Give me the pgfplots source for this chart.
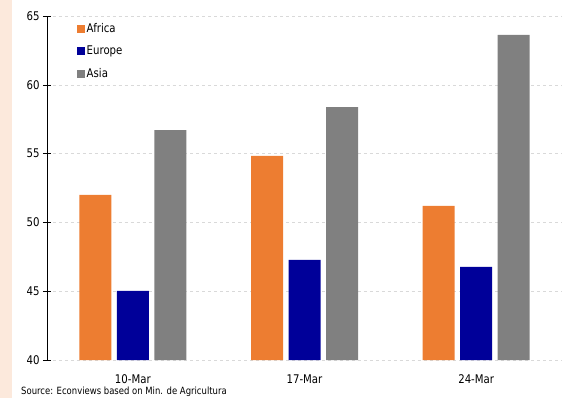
\documentclass[border=0pt]{standalone}
\usepackage{pgfplots}
\pgfplotsset{compat=1.18}
\usepackage{fontspec}
\setmainfont{DejaVu Sans}[FakeStretch=0.85]
\definecolor{afr}{HTML}{ED7D31}
\definecolor{eur}{HTML}{000099}
\definecolor{asi}{HTML}{808080}
\definecolor{peach}{HTML}{FCE9DC}
\begin{document}
\begin{tikzpicture}[x=1bp,y=1bp]
\begin{axis}[
  scale only axis, width=515bp, height=344bp,
  ybar, bar width=32bp,
  ymin=40, ymax=65, ytick={40,45,...,65},
  xmin=-0.5, xmax=2.5, xtick={0,1,2},
  xticklabels={10-Mar,17-Mar,24-Mar},
  axis lines*=left,
  x axis line style={draw=none},
  y axis line style={black, line width=0.8pt},
  xtick style={draw=none},
  ytick style={black, line width=0.6pt},
  tick align=center, major tick length=8bp,
  ymajorgrids, grid style={dashed, black!15, line width=0.6pt},
  /pgf/number format/assume math mode=true,
  ticklabel style={font=\fontsize{12}{14}\selectfont},
  xticklabel style={yshift=-7bp},
  legend style={at={(0,1)}, anchor=north west, xshift=27bp, yshift=-4bp,
    draw=none, fill=none, font=\fontsize{12}{14}\selectfont,
    row sep=9bp, nodes={inner sep=1.5bp}},
  legend cell align=left,
]
\coordinate (O) at (rel axis cs:0,0);
\addplot[fill=afr, draw=none, bar shift=-37.5bp,
  legend image code/.code={\fill[afr] (0bp,-4bp) rectangle (8bp,4bp);}]
  coordinates {(0,52.0) (1,54.83) (2,51.2)};
\addplot[fill=eur, draw=none, bar shift=0bp,
  legend image code/.code={\fill[eur] (0bp,-4bp) rectangle (8bp,4bp);}]
  coordinates {(0,45.02) (1,47.27) (2,46.77)};
\addplot[fill=asi, draw=none, bar shift=37.5bp,
  legend image code/.code={\fill[asi] (0bp,-4bp) rectangle (8bp,4bp);}]
  coordinates {(0,56.7) (1,58.38) (2,63.62)};
\legend{Africa,Europe,Asia}
\end{axis}
\pgfresetboundingbox
\begin{scope}[shift={(O)}]
\useasboundingbox (-47,-38) rectangle (530,360);
\fill[peach] (-47,-38) rectangle (-35,360);
\node[anchor=west, inner sep=0, font=\fontsize{10}{12}\selectfont] at (-26,-32)
  {Source: Econviews based on Min. de Agricultura};
\end{scope}
\end{tikzpicture}
\end{document}
